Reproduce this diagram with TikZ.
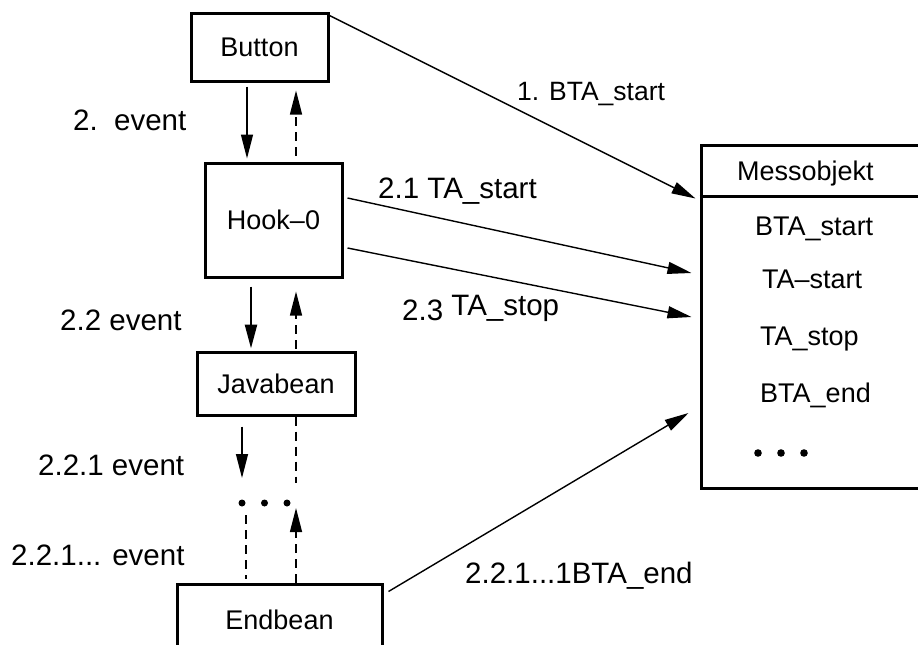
\documentclass[tikz,border=0pt]{standalone}
\usepackage{fontspec}
\setmainfont{Liberation Sans}
\usetikzlibrary{arrows.meta,calc}

\tikzset{
  objbox/.style={draw, line width=3pt, inner sep=0pt, font=\fontsize{27}{32}\selectfont},
  msglabel/.style={inner sep=0pt, anchor=base west, font=\fontsize{29.5}{34}\selectfont},
  entry/.style={inner sep=0pt, anchor=base west, font=\fontsize{27}{32}\selectfont},
  call/.style={-{Triangle[length=24pt,width=12pt]}, line width=1.4pt},
  back/.style={dash pattern=on 9pt off 6pt, line width=1.4pt},
  backtip/.style={back, -{Triangle[length=24pt,width=12pt]}},
}

\begin{document}
\begin{tikzpicture}[x=1pt, y=-1pt]
\clip (0,0) rectangle (918,645);

% Objekte links
\node[objbox, minimum width=137pt, minimum height=68pt] (Button) at (259.5,47) {Button};
\node[objbox, minimum width=137pt, minimum height=114pt] (Hook) at (273.5,220) {Hook--0};
\node[objbox, minimum width=158pt, minimum height=63pt] (Javabean) at (276,383.5) {Javabean};
\node[objbox, minimum width=205pt, minimum height=72pt] (Endbean) at (279.5,620) {Endbean};
\coordinate (gap) at (264.5,503);
\foreach \x in {-22.5,0,22.5}
  \fill ($(gap)+(\x,0)$) circle (3.5pt);

% Messobjekt
\node[objbox, minimum width=224pt, minimum height=343pt] (Messobjekt) at (813,316.5) {};
\draw[line width=3pt] ($(Messobjekt.north west)+(0,53)$) -- ($(Messobjekt.north east)+(0,53)$);
\node[entry] (mTitle) at (737,180) {Messobjekt};
\node[entry] (mBTAstart) at (755,235) {BTA\_start};
\node[entry] (mTAstart) at (762,288) {TA--start};
\node[entry] (mTAstop) at (760,345) {TA\_stop};
\node[entry] (mBTAend) at (760,402) {BTA\_end};
\foreach \x in {758,781,804}
  \fill (\x,453) circle (3.8pt);

% Spalten fuer die senkrechten Pfeile
\coordinate (colA) at (247,0);
\coordinate (colB) at (251,0);
\coordinate (colC) at (242,0);
\coordinate (colD) at (246,0);
\coordinate (colRet) at (296,0);

% events nach unten, Rueckkehr gestrichelt
\draw[call, shorten <=4pt, shorten >=3pt] (Button.south -| colA) -- (Hook.north -| colA);
\draw[backtip, shorten <=6pt, shorten >=8pt] (Hook.north -| colRet) -- (Button.south -| colRet);
\draw[call, line width=2.5pt, shorten <=8pt, shorten >=2pt] (Hook.south -| colB) -- (Javabean.north -| colB);
\draw[backtip, shorten <=2pt, shorten >=13pt] (Javabean.north -| colRet) -- (Hook.south -| colRet);
\draw[call, shorten <=10pt, shorten >=25pt] (Javabean.south -| colC) -- (gap -| colC);
\draw[back, shorten >=20pt] (Javabean.south -| colRet) -- (gap -| colRet);
\draw[back, shorten <=12pt, shorten >=4pt] (gap -| colD) -- (Endbean.north -| colD);
\draw[backtip] (Endbean.north -| colRet) -- ($(gap -| colRet)+(0,5)$);

% Aufrufe ans Messobjekt
\draw[call] ($(Button.north east)+(0,4)$) -- ($(Messobjekt.north west)+(-4,55)$);
\draw[call] ($(Hook.east)+(4,-22)$) -- ($(Messobjekt.west)+(-8,-43.5)$);
\draw[call] ($(Hook.east)+(4,28)$) -- ($(Messobjekt.west)+(-8,0.5)$);
\draw[call] ($(Endbean.north east)+(5,9)$) -- ($(Messobjekt.west)+(-11,96.5)$);

% Beschriftungen
\node[msglabel, font=\fontsize{26.5}{32}\selectfont] (lBTAstart) at (517,100) {1. BTA\_start};
\node[msglabel] (lTAstart) at (378,198) {2.1 TA\_start};
\node[msglabel] (lTAstop) at (402,315) {\raisebox{-5pt}{2.3} TA\_stop};
\node[msglabel] (lBTAend) at (465,583) {2.2.1...1BTA\_end};
\node[msglabel] (lEvent) at (73,130) {2.\ \ event};
\node[msglabel] (lEventB) at (60,330) {2.2 event};
\node[msglabel] (lEventC) at (38,475) {2.2.1 event};
\node[msglabel] (lEventD) at (11,565) {2.2.1... event};
\end{tikzpicture}
\end{document}
